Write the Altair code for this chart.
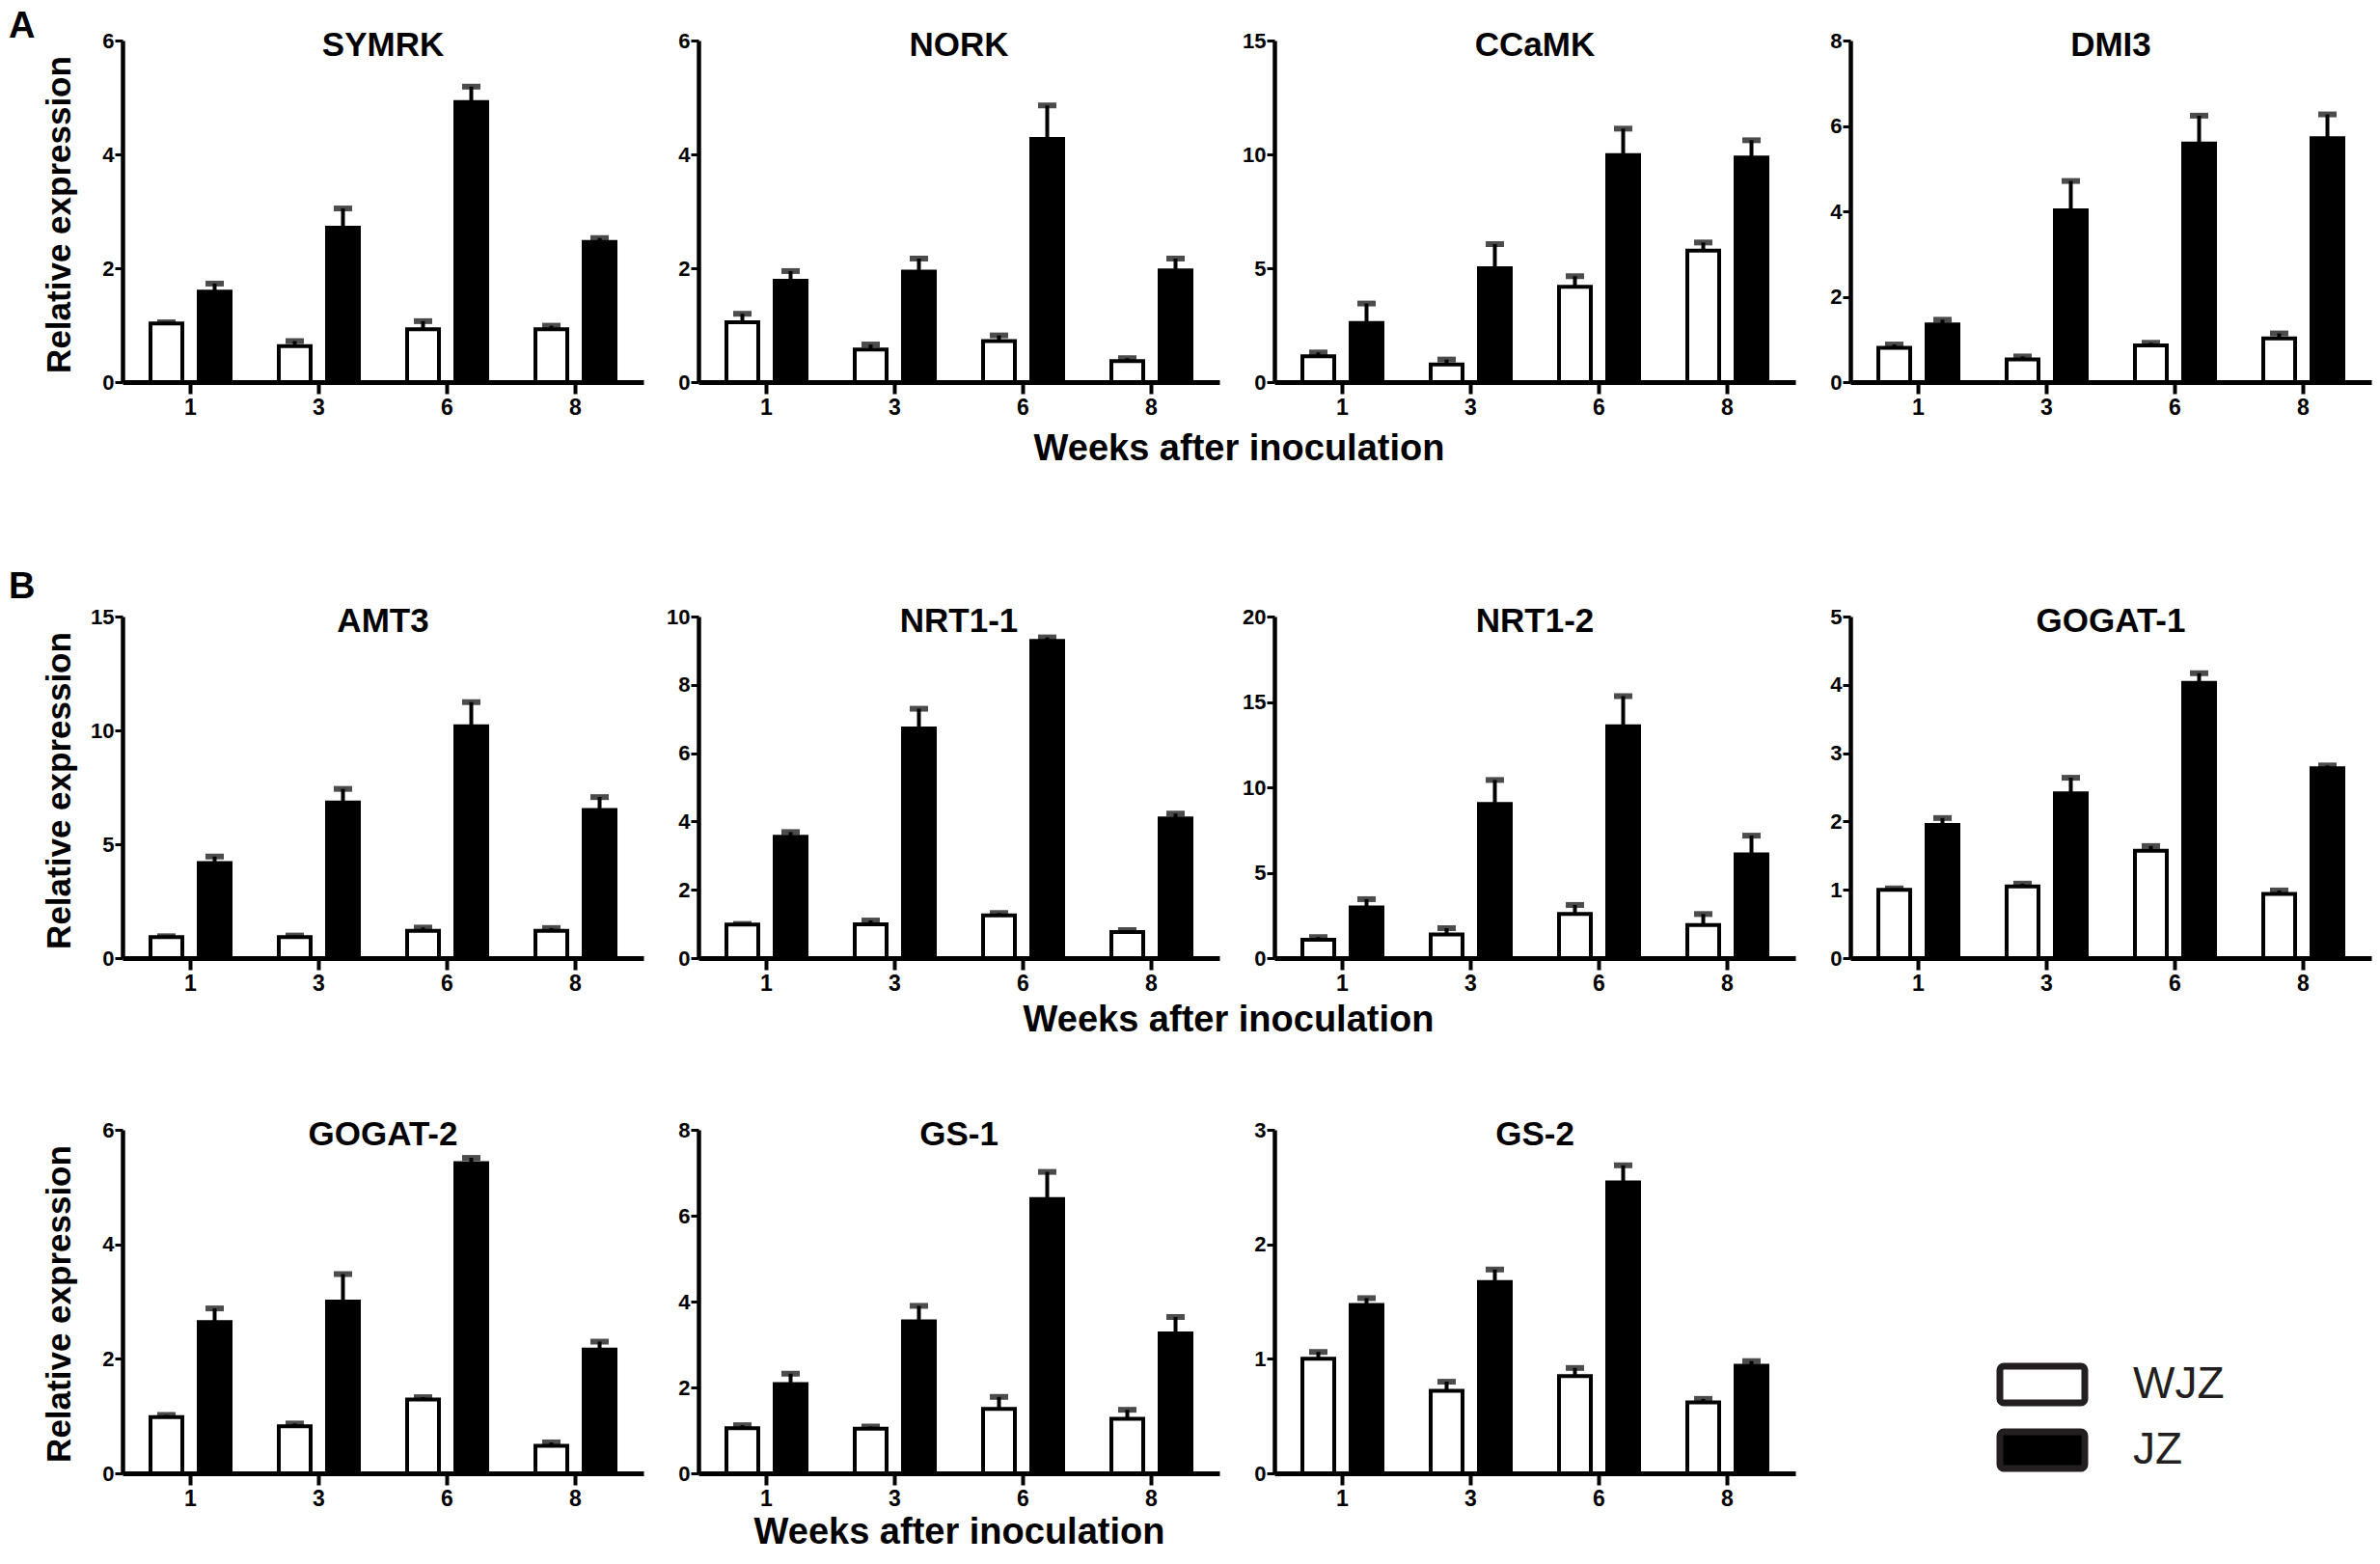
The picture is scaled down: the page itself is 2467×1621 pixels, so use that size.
import altair as alt
import pandas as pd

FONT = "Liberation Sans, Arial, Helvetica, sans-serif"

weeks = ["1", "3", "6", "8"]
groups = ["WJZ", "JZ"]

# ---- data (mean, error) ----
SYMRK_WJZ = [1.03, 0.63, 0.93, 0.93]
SYMRK_WJZ_SD = [0.02, 0.09, 0.14, 0.06]
SYMRK_JZ = [1.59, 2.71, 4.92, 2.46]
SYMRK_JZ_SD = [0.14, 0.34, 0.27, 0.07]
SYMRK_TICKS = [0, 2, 4, 6]

NORK_WJZ = [1.05, 0.57, 0.72, 0.37]
NORK_WJZ_SD = [0.15, 0.09, 0.10, 0.05]
NORK_JZ = [1.78, 1.94, 4.27, 1.96]
NORK_JZ_SD = [0.17, 0.23, 0.59, 0.21]
NORK_TICKS = [0, 2, 4, 6]

CCAMK_WJZ = [1.13, 0.77, 4.18, 5.77]
CCAMK_WJZ_SD = [0.17, 0.22, 0.47, 0.36]
CCAMK_JZ = [2.60, 5.00, 9.97, 9.86]
CCAMK_JZ_SD = [0.85, 1.06, 1.16, 0.76]
CCAMK_TICKS = [0, 5, 10, 15]

DMI3_WJZ = [0.80, 0.53, 0.86, 1.02]
DMI3_WJZ_SD = [0.08, 0.07, 0.06, 0.12]
DMI3_JZ = [1.35, 4.02, 5.59, 5.71]
DMI3_JZ_SD = [0.11, 0.69, 0.65, 0.56]
DMI3_TICKS = [0, 2, 4, 6, 8]

AMT3_WJZ = [0.92, 0.92, 1.20, 1.20]
AMT3_WJZ_SD = [0.04, 0.07, 0.14, 0.12]
AMT3_JZ = [4.17, 6.83, 10.18, 6.50]
AMT3_JZ_SD = [0.29, 0.60, 1.06, 0.57]
AMT3_TICKS = [0, 5, 10, 15]

NRT11_WJZ = [0.98, 0.99, 1.25, 0.76]
NRT11_WJZ_SD = [0.02, 0.11, 0.07, 0.06]
NRT11_JZ = [3.55, 6.72, 9.29, 4.09]
NRT11_JZ_SD = [0.14, 0.58, 0.10, 0.14]
NRT11_TICKS = [0, 2, 4, 6, 8, 10]

NRT12_WJZ = [1.08, 1.38, 2.58, 1.94]
NRT12_WJZ_SD = [0.15, 0.37, 0.53, 0.64]
NRT12_JZ = [2.96, 9.02, 13.58, 6.08]
NRT12_JZ_SD = [0.49, 1.41, 1.76, 1.09]
NRT12_TICKS = [0, 5, 10, 15, 20]

GOGAT1_WJZ = [1.00, 1.05, 1.57, 0.94]
GOGAT1_WJZ_SD = [0.02, 0.04, 0.07, 0.05]
GOGAT1_JZ = [1.95, 2.41, 4.03, 2.78]
GOGAT1_JZ_SD = [0.10, 0.23, 0.14, 0.04]
GOGAT1_TICKS = [0, 1, 2, 3, 4, 5]

GOGAT2_WJZ = [0.98, 0.82, 1.29, 0.48]
GOGAT2_WJZ_SD = [0.04, 0.05, 0.04, 0.06]
GOGAT2_JZ = [2.64, 3.00, 5.42, 2.16]
GOGAT2_JZ_SD = [0.24, 0.48, 0.09, 0.14]
GOGAT2_TICKS = [0, 2, 4, 6]

GS1_WJZ = [1.05, 1.04, 1.50, 1.27]
GS1_WJZ_SD = [0.07, 0.05, 0.28, 0.21]
GS1_JZ = [2.08, 3.54, 6.39, 3.26]
GS1_JZ_SD = [0.24, 0.36, 0.63, 0.38]
GS1_TICKS = [0, 2, 4, 6, 8]

GS2_WJZ = [1.00, 0.72, 0.85, 0.62]
GS2_WJZ_SD = [0.06, 0.08, 0.07, 0.03]
GS2_JZ = [1.47, 1.67, 2.54, 0.94]
GS2_JZ_SD = [0.06, 0.11, 0.15, 0.04]
GS2_TICKS = [0, 1, 2, 3]

Y_TITLE = "Relative expression"
X_TITLE = "Weeks after inoculation"

W = 540
H = 354


def panel(name, wjz, wjz_sd, jz, jz_sd, ticks, ytitle=False, xtitle=None,
          letter=None, letter_y=-33, height=H):
    df = pd.DataFrame({
        "week": weeks * 2,
        "group": ["WJZ"] * 4 + ["JZ"] * 4,
        "mean": wjz + jz,
        "sd": wjz_sd + jz_sd,
    })
    df["upper"] = df["mean"] + df["sd"]

    xaxis_kw = dict(labelAngle=0)
    if xtitle is not None:
        xaxis_kw.update(title=X_TITLE, titleX=xtitle[0], titleY=xtitle[1],
                        titleAlign="center", titleBaseline="alphabetic",
                        titleFontSize=38, titleAngle=0)
    else:
        xaxis_kw.update(title=None)
    xaxis = alt.Axis(**xaxis_kw)

    yaxis_kw = dict(values=ticks)
    if ytitle:
        yaxis_kw.update(title=Y_TITLE, titleX=-55, titleY=180, titleAngle=270,
                        titleAlign="center", titleBaseline="alphabetic",
                        titleFontSize=35)
    else:
        yaxis_kw.update(title=None)
    yaxis = alt.Axis(**yaxis_kw)

    xs = alt.Scale(domain=weeks, paddingInner=0, paddingOuter=0.03)
    ys = alt.Scale(domain=[0, ticks[-1]], nice=False, zero=True)
    xo = alt.XOffset("group:N", sort=groups,
                     scale=alt.Scale(domain=groups, paddingInner=0.34, paddingOuter=0.5))
    x = alt.X("week:N", sort=weeks, scale=xs, axis=xaxis)

    base = alt.Chart(df)
    whisker = base.mark_rule(color="black", strokeWidth=4).encode(
        x=x, xOffset=xo,
        y=alt.Y("mean:Q", scale=ys, axis=yaxis),
        y2="upper:Q",
    )
    cap = base.mark_tick(color="black", size=19, thickness=6).encode(
        x=x, xOffset=xo,
        y=alt.Y("upper:Q", scale=ys, axis=yaxis),
    )
    bars = base.mark_bar(stroke="black", strokeWidth=4).encode(
        x=x, xOffset=xo,
        y=alt.Y("mean:Q", scale=ys, axis=yaxis),
        fill=alt.Fill("group:N", scale=alt.Scale(domain=groups, range=["white", "black"]),
                      legend=None),
    )
    title = alt.Chart(pd.DataFrame({"t": [name]})).mark_text(
        font=FONT, fontSize=35, fontWeight="bold", align="center",
        baseline="alphabetic", color="black"
    ).encode(text="t:N", x=alt.value(W / 2), y=alt.value(16))
    layers = [whisker, cap, bars, title]
    if letter is not None:
        lab = alt.Chart(pd.DataFrame({"t": [letter]})).mark_text(
            font=FONT, fontSize=38, fontWeight="bold", align="left",
            baseline="top", color="black"
        ).encode(text="t:N", x=alt.value(-118), y=alt.value(letter_y))
        layers.append(lab)
    return alt.layer(*layers).properties(width=W, height=height)


def legend_panel(height):
    ldf = pd.DataFrame({"group": groups})
    ly = alt.Y("group:N", sort=groups, axis=None,
               scale=alt.Scale(domain=groups, range=[230, 366],
                               paddingInner=0.44, paddingOuter=0.22))
    boxes = alt.Chart(ldf).mark_rect(stroke="#231f20", strokeWidth=7, cornerRadius=4).encode(
        y=ly, x=alt.value(155), x2=alt.value(243),
        fill=alt.Fill("group:N", scale=alt.Scale(domain=groups, range=["white", "black"]),
                      legend=None),
    )
    labels = alt.Chart(ldf).mark_text(
        font=FONT, fontSize=46, align="left", baseline="middle", color="#231f20"
    ).encode(y=ly, x=alt.value(293), text="group:N")
    return alt.layer(boxes, labels).properties(width=W, height=height)


row_a = alt.hconcat(
    panel("SYMRK", SYMRK_WJZ, SYMRK_WJZ_SD, SYMRK_JZ, SYMRK_JZ_SD, SYMRK_TICKS,
          ytitle=True, letter="A", letter_y=-33),
    panel("NORK", NORK_WJZ, NORK_WJZ_SD, NORK_JZ, NORK_JZ_SD, NORK_TICKS,
          xtitle=(560, 80)),
    panel("CCaMK", CCAMK_WJZ, CCAMK_WJZ_SD, CCAMK_JZ, CCAMK_JZ_SD, CCAMK_TICKS),
    panel("DMI3", DMI3_WJZ, DMI3_WJZ_SD, DMI3_JZ, DMI3_JZ_SD, DMI3_TICKS),
    spacing=57, bounds="flush",
)

row_b = alt.hconcat(
    panel("AMT3", AMT3_WJZ, AMT3_WJZ_SD, AMT3_JZ, AMT3_JZ_SD, AMT3_TICKS,
          ytitle=True, letter="B", letter_y=-49),
    panel("NRT1-1", NRT11_WJZ, NRT11_WJZ_SD, NRT11_JZ, NRT11_JZ_SD, NRT11_TICKS,
          xtitle=(549, 75)),
    panel("NRT1-2", NRT12_WJZ, NRT12_WJZ_SD, NRT12_JZ, NRT12_JZ_SD, NRT12_TICKS),
    panel("GOGAT-1", GOGAT1_WJZ, GOGAT1_WJZ_SD, GOGAT1_JZ, GOGAT1_JZ_SD, GOGAT1_TICKS),
    spacing=57, bounds="flush",
)

HC = 356
row_c = alt.hconcat(
    panel("GOGAT-2", GOGAT2_WJZ, GOGAT2_WJZ_SD, GOGAT2_JZ, GOGAT2_JZ_SD, GOGAT2_TICKS,
          ytitle=True, height=HC),
    panel("GS-1", GS1_WJZ, GS1_WJZ_SD, GS1_JZ, GS1_JZ_SD, GS1_TICKS,
          xtitle=(270, 72), height=HC),
    panel("GS-2", GS2_WJZ, GS2_WJZ_SD, GS2_JZ, GS2_JZ_SD, GS2_TICKS, height=HC),
    legend_panel(HC),
    spacing=57, bounds="flush",
)

# With flush bounds a nested concat counts as zero height, so the spacing
# below is the distance between the tops of consecutive rows.
chart = alt.vconcat(
    row_a,
    alt.vconcat(row_b, row_c, spacing=532, bounds="flush"),
    spacing=597, bounds="flush",
).properties(
    padding=0, background="white"
).configure_view(
    stroke="transparent"
).configure_axis(
    domainColor="black", tickColor="black", labelColor="black",
    labelFont=FONT, labelFontWeight="bold", titleFont=FONT,
    titleFontWeight="bold", titleColor="black", grid=False,
).configure_axisX(
    domainWidth=5, tickWidth=4, tickSize=12, labelFontSize=23, labelPadding=3,
).configure_axisY(
    domainWidth=4.5, tickWidth=3, tickSize=8, labelFontSize=22, labelPadding=1,
)

chart.save("out.html", embed_options={"renderer": "svg", "actions": False})
